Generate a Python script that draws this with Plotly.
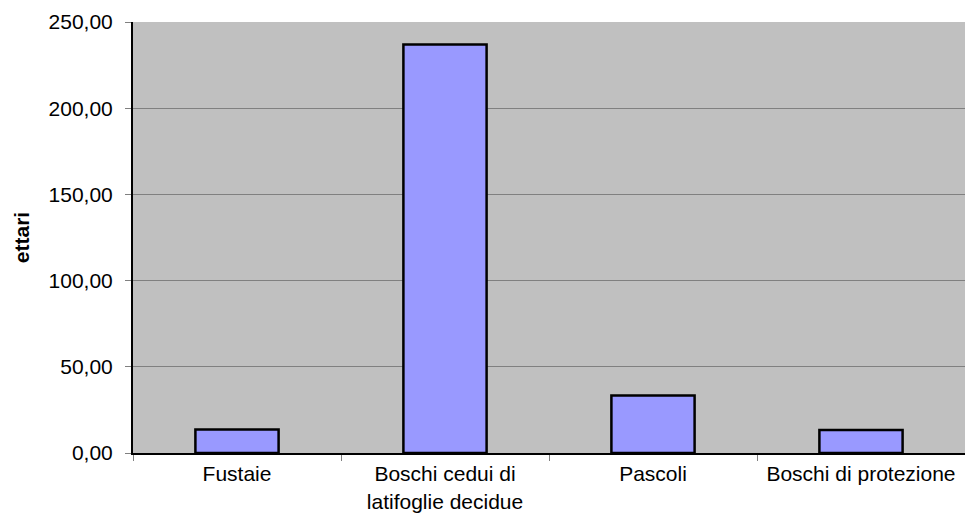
import plotly.graph_objects as go

# Superficie per tipologia (ettari)
categories = ["Fustaie", "Boschi cedui di<br>latifoglie decidue", "Pascoli", "Boschi di protezione"]
ettari = [13.6, 236.9, 33.3, 13.4]
y_ticks = [0, 50, 100, 150, 200, 250]

font_family = "Liberation Sans, Arial, sans-serif"

fig = go.Figure(
    go.Bar(
        x=categories,
        y=ettari,
        marker=dict(color="#9999FF", line=dict(color="#000000", width=2.5)),
        width=0.4,
    )
)

fig.update_layout(
    width=965,
    height=515,
    margin=dict(l=133, r=0, t=22, b=62),
    paper_bgcolor="#FFFFFF",
    plot_bgcolor="#C0C0C0",
    separators=",.",
    showlegend=False,
    font=dict(family=font_family, size=21, color="#000000"),
)

fig.update_xaxes(
    type="category",
    automargin=False,
    tickson="boundaries",
    ticks="outside",
    ticklen=6,
    tickcolor="#808080",
    ticklabelstandoff=1,
    showline=True,
    linecolor="#000000",
    linewidth=2,
    showgrid=False,
    tickfont=dict(size=21),
)

fig.update_yaxes(
    range=[0, 250],
    automargin=False,
    tickvals=y_ticks,
    tickformat=".2f",
    ticks="outside",
    ticklen=6,
    tickcolor="#808080",
    ticklabelstandoff=8,
    showline=True,
    linecolor="#000000",
    linewidth=2,
    showgrid=True,
    gridcolor="#808080",
    gridwidth=1,
    zeroline=False,
    tickfont=dict(size=21),
    title=dict(text="<b>ettari</b>", font=dict(size=21), standoff=13),
)

fig.write_html("out.html")
